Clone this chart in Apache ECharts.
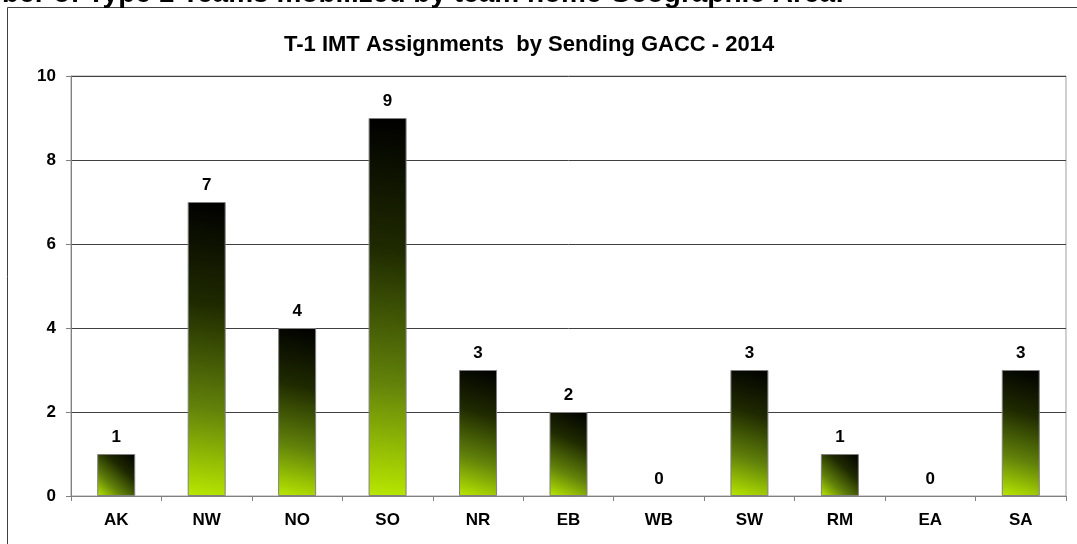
<!DOCTYPE html>
<html>
<head>
<meta charset="utf-8">
<script src="https://cdn.jsdelivr.net/npm/echarts@6/dist/echarts.min.js"></script>
<style>
  html, body { margin: 0; padding: 0; background: #fff; }
  #chart { width: 1077px; height: 544px; }
</style>
</head>
<body>
<div id="chart"></div>
<script>
const gaccs = ['AK', 'NW', 'NO', 'SO', 'NR', 'EB', 'WB', 'SW', 'RM', 'EA', 'SA'];
const assignments = [1, 7, 4, 9, 3, 2, 0, 3, 1, 0, 3];
const yTicks = [0, 2, 4, 6, 8, 10];

const barFill = new echarts.graphic.LinearGradient(0, 1, 1, 0, [
  { offset: 0, color: '#b8e800' },
  { offset: 0.3, color: '#62820a' },
  { offset: 0.65, color: '#1f2a00' },
  { offset: 1, color: '#000000' }
]);

// zero bars show no outline in the original
const barData = assignments.map(v => ({
  value: v,
  itemStyle: v === 0 ? { borderWidth: 0 } : {}
}));

const myChart = echarts.init(document.getElementById('chart'));

const option = {
  animation: false,
  textStyle: { fontFamily: 'Liberation Sans, Arial, sans-serif' },
  graphic: [
    {
      type: 'rect',
      shape: { x: 7.5, y: 7.5, width: 1100, height: 600 },
      style: { fill: 'none', stroke: '#404040', lineWidth: 1 },
      silent: true,
      z: -1
    },
    {
      type: 'text',
      left: 2,
      top: -20,
      style: {
        text: 'ber of Type 1 Teams mobilized by team home Geographic Area:',
        font: 'bold 28px "Liberation Sans", Arial, sans-serif',
        fill: '#000'
      }
    },
    {
      type: 'text',
      left: 284,
      top: 34,
      style: {
        text: 'T-1 IMT Assignments  by Sending GACC - 2014',
        font: 'bold 22px "Liberation Sans", Arial, sans-serif',
        fill: '#000'
      }
    }
  ],
  grid: {
    left: 71,
    right: 11,
    top: 76,
    bottom: 48,
    show: true,
    borderColor: '#a0a0a0',
    borderWidth: 1
  },
  xAxis: {
    type: 'category',
    data: gaccs,
    axisLine: { lineStyle: { color: '#808080' } },
    axisTick: { show: true, length: 5, lineStyle: { color: '#808080' } },
    axisLabel: {
      color: '#000',
      fontWeight: 'bold',
      fontSize: 17,
      margin: 16
    }
  },
  yAxis: {
    type: 'value',
    min: yTicks[0],
    max: yTicks[yTicks.length - 1],
    interval: 2,
    axisLine: { show: true, lineStyle: { color: '#808080' } },
    axisTick: { show: true, length: 5, lineStyle: { color: '#808080' } },
    axisLabel: {
      color: '#000',
      fontWeight: 'bold',
      fontSize: 17,
      margin: 15
    },
    splitLine: { lineStyle: { color: '#404040', width: 1 } }
  },
  series: [{
    type: 'bar',
    data: barData,
    barWidth: 38,
    itemStyle: {
      color: barFill,
      borderColor: '#808080',
      borderWidth: 1
    },
    label: {
      show: true,
      position: 'top',
      distance: 8,
      color: '#000',
      fontWeight: 'bold',
      fontSize: 17
    }
  }]
};

myChart.setOption(option, true);
</script>
</body>
</html>
